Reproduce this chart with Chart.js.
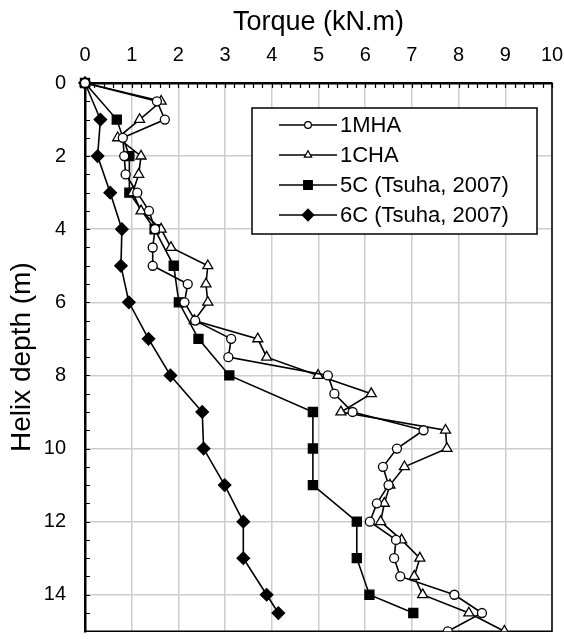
<!DOCTYPE html>
<html>
<head>
<meta charset="utf-8">
<script src="https://cdn.jsdelivr.net/npm/chart.js@4/dist/chart.umd.min.js"></script>
<style>
html,body{margin:0;padding:0;background:#fff;}
canvas{display:block;}
</style>
</head>
<body>
<canvas id="c" width="564" height="639"></canvas>
<script>
// ---- data ----
const depth1MHA = [0,0.5,1,1.5,2,2.5,3,3.5,4,4.5,5,5.5,6,6.5,7,7.5,8,8.5,9,9.5,10,10.5,11,11.5,12,12.5,13,13.5,14,14.5,15];
const torque1MHA = [0,1.54,1.71,0.81,0.84,0.87,1.12,1.37,1.50,1.45,1.45,2.20,2.13,2.36,3.13,3.07,5.20,5.34,5.73,7.25,6.68,6.38,6.50,6.25,6.10,6.66,6.62,6.75,7.91,8.50,7.77];
const depth1CHA = [0,0.5,1,1.5,2,2.5,3,3.5,4,4.5,5,5.5,6,6.5,7,7.5,8,8.5,9,9.5,10,10.5,11,11.5,12,12.5,13,13.5,14,14.5,15];
const torque1CHA = [0,1.63,1.17,0.70,1.20,1.15,1.02,1.20,1.63,1.84,2.63,2.59,2.63,2.34,3.70,3.89,4.99,6.13,5.48,7.72,7.75,6.84,6.53,6.41,6.33,6.78,7.17,7.05,7.23,8.22,8.98];
const depth5C = [0,1,2,3,4,5,6,7,8,9,10,11,12,13,14,14.5];
const torque5C = [0,0.68,0.95,0.95,1.49,1.90,2.01,2.43,3.09,4.88,4.88,4.88,5.82,5.82,6.09,7.03];
const depth6C = [0,1,2,3,4,5,6,7,8,9,10,11,12,13,14,14.5];
const torque6C = [0,0.33,0.27,0.54,0.79,0.77,0.94,1.36,1.83,2.51,2.54,2.99,3.39,3.39,3.89,4.14];
const seriesLabels = ['1MHA','1CHA','5C (Tsuha, 2007)','6C (Tsuha, 2007)'];
const xTitle = 'Torque (kN.m)';
const yTitle = 'Helix depth (m)';

const FONT = "'Liberation Sans', Arial, sans-serif";
const pts = (xs, ys) => xs.map((x, i) => ({x: x, y: ys[i]}));

const styles = [
  {pointStyle:'circle', pointRadius:4.5, pointBackgroundColor:'#fff', lr:3.4},
  {pointStyle:'triangle', pointRadius:5.8, pointBackgroundColor:'#fff', lr:4.2},
  {pointStyle:'rect', pointRadius:6.4, pointBackgroundColor:'#000', lr:4.3},
  {pointStyle:'rectRot', pointRadius:6.2, pointBackgroundColor:'#000', lr:5.8}
];
const dataSets = [pts(torque1MHA, depth1MHA), pts(torque1CHA, depth1CHA), pts(torque5C, depth5C), pts(torque6C, depth6C)];

const datasets = dataSets.map((d, i) => ({
  label: seriesLabels[i],
  data: d,
  showLine: true,
  borderColor: '#000',
  borderWidth: 1.6,
  pointBorderColor: '#000',
  pointBorderWidth: 1.3,
  pointStyle: styles[i].pointStyle,
  pointRadius: styles[i].pointRadius,
  pointBackgroundColor: styles[i].pointBackgroundColor,
  clip: {left: 12, top: 12, right: 0, bottom: 0}
}));

function drawMarker(ctx, style, x, y, r) {
  ctx.save();
  ctx.beginPath();
  if (style === 'circle') {
    ctx.arc(x, y, r, 0, Math.PI * 2);
  } else if (style === 'triangle') {
    for (let k = 0; k < 3; k++) {
      const a = -Math.PI / 2 + k * 2 * Math.PI / 3;
      const px = x + Math.cos(a) * r, py = y + Math.sin(a) * r;
      if (k === 0) ctx.moveTo(px, py); else ctx.lineTo(px, py);
    }
    ctx.closePath();
  } else if (style === 'rect') {
    ctx.rect(x - r, y - r, 2 * r, 2 * r);
  } else {
    ctx.moveTo(x, y - r); ctx.lineTo(x + r, y); ctx.lineTo(x, y + r); ctx.lineTo(x - r, y); ctx.closePath();
  }
  ctx.fill();
  ctx.stroke();
  ctx.restore();
}

const framePlugin = {
  id: 'frame',
  beforeDatasetsDraw(chart) {
    const ctx = chart.ctx, a = chart.chartArea;
    const xs = chart.scales.x, ys = chart.scales.y;
    ctx.save();
    ctx.strokeStyle = '#000';
    ctx.lineWidth = 1.5;
    ctx.beginPath();
    ctx.moveTo(a.right, a.top); ctx.lineTo(a.right, a.bottom); ctx.lineTo(a.left, a.bottom);
    ctx.stroke();
    // minor ticks (inward)
    ctx.lineWidth = 1.2;
    ctx.beginPath();
    for (let v = 0; v <= 10.0001; v += 0.2) {
      const px = Math.round(xs.getPixelForValue(v)) + 0.5;
      ctx.moveTo(px, a.top); ctx.lineTo(px, a.top + 5);
    }
    for (let v = 0; v <= 15.0001; v += 0.5) {
      const py = Math.round(ys.getPixelForValue(v)) + 0.5;
      ctx.moveTo(a.left, py); ctx.lineTo(a.left + 5, py);
    }
    ctx.stroke();
    ctx.restore();
  },
  afterDatasetsDraw(chart) {
    const ctx = chart.ctx;
    const bx = 252, by = 108, bw = 285, bh = 126;
    ctx.save();
    ctx.fillStyle = '#fff';
    ctx.fillRect(bx, by, bw, bh);
    ctx.strokeStyle = '#000';
    ctx.lineWidth = 1.5;
    ctx.strokeRect(bx, by, bw, bh);
    chart.data.datasets.forEach((ds, i) => {
      const y = by + 17 + i * 30;
      ctx.strokeStyle = '#000';
      ctx.lineWidth = 1.6;
      ctx.beginPath();
      ctx.moveTo(279, y); ctx.lineTo(337, y);
      ctx.stroke();
      ctx.fillStyle = styles[i].pointBackgroundColor;
      ctx.lineWidth = 1.2;
      drawMarker(ctx, styles[i].pointStyle, 308, y, styles[i].lr);
      ctx.fillStyle = '#000';
      ctx.font = '22px ' + FONT;
      ctx.textAlign = 'left';
      ctx.textBaseline = 'middle';
      ctx.fillText(ds.label, 340, y + 1);
    });
    ctx.restore();
  }
};

new Chart(document.getElementById('c'), {
  type: 'scatter',
  data: {datasets: datasets},
  options: {
    responsive: false,
    animation: false,
    layout: {padding: {left: 0, top: 0, right: 12, bottom: 6}},
    plugins: {legend: {display: false}, tooltip: {enabled: false}},
    scales: {
      x: {
        type: 'linear',
        position: 'top',
        min: 0, max: 10,
        afterFit(s) { s.height = 83; s.paddingLeft = 0; s.paddingRight = 0; s.paddingTop = 0; s.paddingBottom = 0; },
        ticks: {stepSize: 1, color: '#000', font: {family: FONT, size: 20}, padding: 16, maxRotation: 0},
        grid: {color: '#cdcdcd', lineWidth: 1.5, drawTicks: false},
        border: {display: true, color: '#000', width: 2.5},
        title: {display: true, text: xTitle, color: '#000', font: {family: FONT, size: 27}, padding: {top: 6, bottom: 0}}
      },
      y: {
        type: 'linear',
        position: 'left',
        reverse: true,
        min: 0, max: 15,
        afterFit(s) { s.width = 85; s.paddingLeft = 0; s.paddingRight = 0; s.paddingTop = 0; s.paddingBottom = 0; },
        ticks: {stepSize: 2, includeBounds: false, color: '#000', font: {family: FONT, size: 20}, padding: 19},
        grid: {color: '#cdcdcd', lineWidth: 1.5, drawTicks: false},
        border: {display: true, color: '#000', width: 2.5},
        title: {display: true, text: yTitle, color: '#000', font: {family: FONT, size: 28}, padding: {top: 5, bottom: 0}}
      }
    }
  },
  plugins: [framePlugin]
});
</script>
</body>
</html>
